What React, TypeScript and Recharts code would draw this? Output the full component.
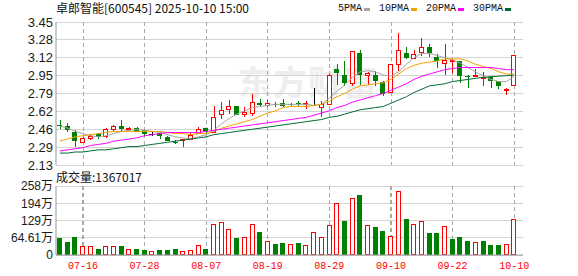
import React from "react";
import {
  ComposedChart,
  Bar,
  Line,
  XAxis,
  YAxis,
  CartesianGrid,
} from "recharts";

// Handelstage (MM-DD)
const dates = [
  "07-11", "07-14", "07-15", "07-16", "07-17", "07-18", "07-21", "07-22", "07-23", "07-24",
  "07-25", "07-28", "07-29", "07-30", "07-31", "08-01", "08-04", "08-05", "08-06", "08-07",
  "08-08", "08-11", "08-12", "08-13", "08-14", "08-15", "08-18", "08-19", "08-20", "08-21",
  "08-22", "08-25", "08-26", "08-27", "08-28", "08-29", "09-01", "09-02", "09-03", "09-04",
  "09-05", "09-08", "09-09", "09-10", "09-11", "09-12", "09-15", "09-16", "09-17", "09-18",
  "09-19", "09-22", "09-23", "09-24", "09-25", "09-26", "09-29", "09-30", "10-09", "10-10",
];

const opens = [
  2.5, 2.489, 2.437, 2.339, 2.382, 2.413, 2.4, 2.464, 2.489, 2.459,
  2.468, 2.45, 2.418, 2.422, 2.391, 2.342, 2.36, 2.372, 2.428, 2.471,
  2.437, 2.597, 2.643, 2.673, 2.597, 2.606, 2.698, 2.683, 2.692, 2.698,
  2.69, 2.698, 2.689, 2.683, 2.662, 2.695, 3.017, 2.962, 2.888, 3.164,
  2.962, 2.962, 2.895, 2.802, 3.063, 3.164, 3.118, 3.177, 3.217, 3.131,
  3.07, 3.09, 3.088, 2.95, 2.953, 2.938, 2.941, 2.904, 2.821, 2.873,
];
const highs = [
  2.545, 2.517, 2.455, 2.385, 2.413, 2.425, 2.474, 2.499, 2.547, 2.483,
  2.48, 2.455, 2.432, 2.434, 2.4, 2.36, 2.374, 2.422, 2.483, 2.471,
  2.676, 2.71, 2.729, 2.675, 2.662, 2.79, 2.741, 2.729, 2.71, 2.735,
  2.705, 2.717, 2.717, 2.839, 2.717, 2.97, 3.063, 3.094, 3.18, 3.187,
  2.987, 3.002, 2.901, 3.058, 3.346, 3.217, 3.187, 3.303, 3.247, 3.155,
  3.247, 3.11, 3.094, 2.962, 3.012, 2.987, 2.956, 2.91, 2.839, 3.15,
];
const lows = [
  2.459, 2.437, 2.299, 2.335, 2.358, 2.372, 2.382, 2.446, 2.437, 2.446,
  2.434, 2.397, 2.394, 2.372, 2.348, 2.324, 2.296, 2.367, 2.416, 2.416,
  2.428, 2.557, 2.597, 2.589, 2.569, 2.581, 2.662, 2.662, 2.662, 2.662,
  2.67, 2.673, 2.649, 2.673, 2.572, 2.69, 2.864, 2.855, 2.858, 2.87,
  2.864, 2.858, 2.766, 2.796, 3.002, 3.109, 3.104, 3.14, 3.125, 3.026,
  2.962, 2.98, 2.888, 2.842, 2.941, 2.858, 2.839, 2.833, 2.778, 2.864,
];
const closes = [
  2.495, 2.455, 2.354, 2.382, 2.4, 2.391, 2.462, 2.487, 2.459, 2.468,
  2.437, 2.416, 2.418, 2.397, 2.354, 2.338, 2.372, 2.409, 2.462, 2.437,
  2.569, 2.637, 2.673, 2.591, 2.621, 2.71, 2.685, 2.698, 2.685, 2.673,
  2.684, 2.692, 2.701, 2.683, 2.689, 2.965, 2.977, 2.888, 3.18, 2.965,
  2.977, 2.901, 2.787, 3.058, 3.187, 3.118, 3.155, 3.217, 3.164, 3.088,
  3.1, 3.1, 2.956, 2.943, 2.959, 2.943, 2.901, 2.855, 2.827, 3.15,
];

const ma5 = [
  2.49, 2.47, 2.44, 2.42, 2.4, 2.39, 2.4, 2.42, 2.44, 2.45,
  2.46, 2.45, 2.44, 2.43, 2.41, 2.39, 2.38, 2.37, 2.39, 2.41,
  2.45, 2.51, 2.56, 2.6, 2.63, 2.66, 2.67, 2.68, 2.69, 2.69,
  2.69, 2.69, 2.69, 2.68, 2.69, 2.75, 2.81, 2.87, 2.94, 2.99,
  3.0, 2.99, 2.96, 2.95, 2.99, 3.06, 3.12, 3.16, 3.16, 3.14,
  3.12, 3.1, 3.07, 3.03, 2.99, 2.95, 2.92, 2.9, 2.9, 2.95,
];
const ma10 = [
  2.35, 2.37, 2.39, 2.4, 2.41, 2.42, 2.43, 2.44, 2.44, 2.44,
  2.44, 2.44, 2.44, 2.44, 2.43, 2.42, 2.42, 2.41, 2.42, 2.42,
  2.44, 2.47, 2.49, 2.51, 2.53, 2.55, 2.58, 2.61, 2.63, 2.66,
  2.67, 2.67, 2.67, 2.68, 2.69, 2.72, 2.76, 2.79, 2.83, 2.86,
  2.87, 2.88, 2.89, 2.92, 2.97, 3.02, 3.05, 3.07, 3.08, 3.09,
  3.11, 3.11, 3.11, 3.09, 3.06, 3.04, 3.02, 2.99, 2.97, 2.97,
];
const ma20 = [
  2.26, 2.27, 2.28, 2.29, 2.31, 2.32, 2.33, 2.35, 2.36, 2.37,
  2.38, 2.4, 2.41, 2.42, 2.43, 2.43, 2.43, 2.43, 2.43, 2.44,
  2.45, 2.46, 2.47, 2.48, 2.49, 2.5, 2.51, 2.52, 2.53, 2.54,
  2.55, 2.56, 2.57, 2.59, 2.61, 2.63, 2.66, 2.68, 2.71, 2.73,
  2.75, 2.77, 2.79, 2.82, 2.85, 2.88, 2.92, 2.95, 2.97, 2.99,
  3.01, 3.02, 3.03, 3.03, 3.03, 3.03, 3.03, 3.02, 3.01, 3.01,
];
const ma30 = [
  2.24, 2.24, 2.25, 2.25, 2.26, 2.27, 2.27, 2.28, 2.29, 2.3,
  2.3, 2.31, 2.32, 2.33, 2.34, 2.35, 2.36, 2.37, 2.38, 2.39,
  2.41, 2.42, 2.43, 2.44, 2.45, 2.46, 2.47, 2.48, 2.49, 2.5,
  2.51, 2.52, 2.53, 2.54, 2.55, 2.57, 2.58, 2.6, 2.62, 2.64,
  2.65, 2.66, 2.67, 2.7, 2.73, 2.76, 2.8, 2.83, 2.86, 2.87,
  2.88, 2.9, 2.91, 2.92, 2.93, 2.94, 2.945, 2.95, 2.955, 2.96,
];

// Volumen in 万
const volumes = [
  63, 48, 67, 32, 32, 21, 35, 35, 33, 24,
  24, 18, 16, 18, 18, 21, 16, 20, 39, 21,
  115, 122, 99, 63, 69, 115, 86, 54, 40, 44,
  43, 44, 39, 88, 69, 111, 194, 127, 213, 225,
  111, 105, 89, 73, 239, 135, 115, 126, 82, 82,
  107, 59, 67, 52, 47, 52, 37, 37, 43, 136.7,
];
// r = gegenüber Vortag gestiegen (rot, hohl), g = gefallen (grün)
const volumeColors = "gggrrgrrgrggrgggrrrgrrrgrrgrggrgrrrrrgrgrggrrgrrggrgggrgggrr".split("");

const labelDates = ["07-16", "07-28", "08-07", "08-19", "08-29", "09-10", "09-22", "10-10"];
const priceTicks = [2.13, 2.295, 2.46, 2.625, 2.79, 2.955, 3.12, 3.285, 3.45];
const priceTickLabels = ["2.13", "2.29", "2.46", "2.62", "2.79", "2.95", "3.12", "3.28", "3.45"];
const volTicks = [0, 64.61, 129.22, 193.83, 258.44];
const volTickLabels = ["0", "64.61万", "129万", "194万", "258万"];

const maSeries = [
  { key: "ma5", name: "5PMA", color: "#a6a6a6" },
  { key: "ma10", name: "10PMA", color: "#f2a200" },
  { key: "ma20", name: "20PMA", color: "#ff00ff" },
  { key: "ma30", name: "30PMA", color: "#006b33" },
];

const RED = "#ff0000";
const GREEN = "#008000";
const BORDER = "#999999";
const GRID = "#d4d4d4";
const DASH = "#a8a8a8";
const FONT = "'Liberation Sans', Arial, 'Noto Sans CJK SC', sans-serif";
const MONO = "'Liberation Mono', 'DejaVu Sans Mono', monospace";

const PRICE_DOMAIN: [number, number] = [2.13, 3.45];
const VOL_DOMAIN: [number, number] = [0, 258.44];

const rows = dates.map((date, i) => ({
  date,
  open: opens[i],
  high: highs[i],
  low: lows[i],
  close: closes[i],
  ma5: ma5[i],
  ma10: ma10[i],
  ma20: ma20[i],
  ma30: ma30[i],
  vol: volumes[i],
  volUp: volumeColors[i] === "r",
  marked: labelDates.indexOf(date) >= 0,
}));

// gestrichelte Senkrechte aus kurzen Strichen
function DashedVertical({ cx, y1, y2 }: { cx: number; y1: number; y2: number }) {
  const a = Math.round(Math.min(y1, y2));
  const b = Math.round(Math.max(y1, y2));
  const segs: React.ReactElement[] = [];
  for (let s = a; s < b; s += 7) {
    segs.push(<rect key={s} x={cx - 0.5} y={s} width={1} height={Math.min(4, b - s)} fill={DASH} />);
  }
  return <g>{segs}</g>;
}

function Candle(props: any) {
  const { x, y, width, height, payload } = props;
  if (!payload) return null;
  const { open, close, high, low, marked } = payload;
  const top = Math.min(y, y + height);
  const k = Math.abs(height) / (high - low || 1);
  const pyRaw = (v: number) => top + (high - v) * k;
  const py = (v: number) => Math.round(pyRaw(v));
  const cx = Math.round(x + width / 2) + 0.5;
  const left = Math.round(x);
  const w = Math.round(width);
  const yTop = py(Math.max(open, close));
  const yBot = py(Math.min(open, close));
  const bodyH = Math.max(yBot - yTop, 1);

  let mark;
  if (close > open) {
    mark = (
      <>
        <line x1={cx} x2={cx} y1={py(high)} y2={py(low)} stroke={RED} />
        <rect x={left + 0.5} y={yTop + 0.5} width={w - 1} height={bodyH} fill="#fff" stroke={RED} />
      </>
    );
  } else if (close < open) {
    mark = (
      <>
        <line x1={cx} x2={cx} y1={py(high)} y2={py(low)} stroke={GREEN} />
        <rect x={left} y={yTop} width={w} height={bodyH} fill={GREEN} />
      </>
    );
  } else {
    mark = (
      <>
        <line x1={cx} x2={cx} y1={py(high)} y2={py(low)} stroke="#000" />
        <line x1={left} x2={left + w} y1={yTop + 0.5} y2={yTop + 0.5} stroke="#000" />
      </>
    );
  }
  return (
    <g shapeRendering="crispEdges">
      {marked ? (
        <DashedVertical cx={cx} y1={pyRaw(PRICE_DOMAIN[1])} y2={pyRaw(PRICE_DOMAIN[0])} />
      ) : null}
      {mark}
    </g>
  );
}

function VolumeBar(props: any) {
  const { x, y, width, height, payload } = props;
  if (!payload) return null;
  const left = Math.round(x);
  const w = Math.round(width);
  const t = Math.round(y);
  const base = y + height;
  const h = Math.max(Math.round(base) - t, 1);
  const k = Math.abs(height) / (payload.vol || 1);
  const plotTop = base - VOL_DOMAIN[1] * k;
  const cx = Math.round(x + width / 2) + 0.5;
  return (
    <g shapeRendering="crispEdges">
      {payload.marked ? <DashedVertical cx={cx} y1={plotTop} y2={base} /> : null}
      {payload.volUp ? (
        <rect x={left + 0.5} y={t + 0.5} width={w - 1} height={h - 1} fill="#fff" stroke={RED} />
      ) : (
        <rect x={left} y={t} width={w} height={h} fill={GREEN} />
      )}
    </g>
  );
}

const CHART_W = 578;
const MARGIN_RIGHT = 55;
const AXIS_W = 56;
const X_PADDING = { left: 0, right: 5 };

export default function App() {
  return (
    <div
      style={{
        position: "absolute",
        left: 0,
        top: 0,
        width: CHART_W,
        height: 276,
        background: "#fff",
        fontFamily: FONT,
        overflow: "hidden",
      }}
    >
      {/* Wasserzeichen */}
      <div
        style={{
          position: "absolute",
          left: 238,
          top: 62,
          fontSize: 34,
          fontWeight: 700,
          color: "#eeeeee",
          fontFamily: "'Noto Sans CJK SC', sans-serif",
          letterSpacing: 1,
          lineHeight: "38px",
        }}
      >
        东方财富
      </div>

      {/* Titel */}
      <div
        style={{
          position: "absolute",
          left: 56,
          top: 1,
          fontSize: 12,
          lineHeight: "14px",
          color: "#111",
          fontFamily: "'Noto Sans CJK SC', sans-serif",
          whiteSpace: "pre",
        }}
      >
        卓郎智能[600545] 2025-10-10 15:00
      </div>

      {/* Legende */}
      <div
        style={{
          position: "absolute",
          left: 338,
          top: 3,
          display: "flex",
          alignItems: "center",
          gap: 9,
          fontFamily: MONO,
          fontSize: 10,
          lineHeight: "12px",
          color: "#111",
        }}
      >
        {maSeries.map((s) => (
          <div key={s.key} style={{ display: "flex", alignItems: "center" }}>
            <span>{s.name}</span>
            <span
              style={{ display: "inline-block", width: 6, height: 3, marginLeft: 2, background: s.color }}
            />
          </div>
        ))}
      </div>

      {/* Volumen-Titel */}
      <div
        style={{
          position: "absolute",
          left: 56,
          top: 170,
          fontSize: 12,
          lineHeight: "14px",
          color: "#111",
          fontFamily: "'Noto Sans CJK SC', sans-serif",
        }}
      >
        成交量:1367017
      </div>

      {/* Kurs-Chart */}
      <div style={{ position: "absolute", left: 0, top: 0 }}>
        <ComposedChart
          width={CHART_W}
          height={172}
          data={rows}
          margin={{ top: 22, right: MARGIN_RIGHT, bottom: 7, left: 0 }}
          barCategoryGap={0}
        >
          <CartesianGrid vertical={false} stroke={GRID} shapeRendering="crispEdges" />
          <CartesianGrid
            horizontal={false}
            verticalValues={labelDates}
            stroke={DASH}
            strokeDasharray="4 3"
            shapeRendering="crispEdges"
          />
          <XAxis
            dataKey="date"
            height={0}
            tick={false}
            tickLine={false}
            interval={0}
            axisLine={{ stroke: BORDER }}
            padding={X_PADDING}
          />
          <XAxis
            xAxisId="top"
            orientation="top"
            dataKey="date"
            height={0}
            tick={false}
            tickLine={false}
            axisLine={{ stroke: BORDER }}
            padding={X_PADDING}
          />
          <YAxis
            domain={PRICE_DOMAIN}
            ticks={priceTicks}
            interval={0}
            allowDataOverflow
            width={AXIS_W}
            tickSize={2}
            tickMargin={1}
            tickLine={false}
            axisLine={{ stroke: BORDER }}
            tick={{ fontSize: 13, fill: "#1a1a1a", fontFamily: FONT }}
            tickFormatter={(v: number) => priceTickLabels[priceTicks.indexOf(v)] ?? ""}
          />
          <YAxis
            yAxisId="r"
            orientation="right"
            domain={PRICE_DOMAIN}
            width={0}
            tick={false}
            tickLine={false}
            axisLine={{ stroke: BORDER }}
          />
          <Bar
            dataKey={(d: any) => [d.low, d.high]}
            barSize={5}
            shape={(p: any) => <Candle {...p} />}
            isAnimationActive={false}
          />
          {maSeries.map((s) => (
            <Line
              key={s.key}
              type="linear"
              dataKey={s.key}
              stroke={s.color}
              strokeWidth={1}
              dot={false}
              activeDot={false}
              isAnimationActive={false}
            />
          ))}
        </ComposedChart>
      </div>

      {/* Volumen-Chart */}
      <div style={{ position: "absolute", left: 0, top: 170 }}>
        <ComposedChart
          width={CHART_W}
          height={106}
          data={rows}
          margin={{ top: 16, right: MARGIN_RIGHT, bottom: 0, left: 0 }}
          barCategoryGap={0}
        >
          <CartesianGrid vertical={false} stroke={GRID} shapeRendering="crispEdges" />
          <CartesianGrid
            horizontal={false}
            verticalValues={labelDates}
            stroke={DASH}
            strokeDasharray="4 3"
            shapeRendering="crispEdges"
          />
          <XAxis
            dataKey="date"
            height={21}
            ticks={labelDates}
            interval={0}
            tickLine={false}
            tickSize={5}
            axisLine={{ stroke: BORDER }}
            padding={X_PADDING}
            tick={{ fontSize: 10, fill: RED, fontFamily: MONO }}
          />
          <XAxis
            xAxisId="top"
            orientation="top"
            dataKey="date"
            height={0}
            tick={false}
            tickLine={false}
            axisLine={{ stroke: BORDER }}
            padding={X_PADDING}
          />
          <YAxis
            domain={VOL_DOMAIN}
            ticks={volTicks}
            interval={0}
            allowDataOverflow
            width={AXIS_W}
            tickSize={2}
            tickMargin={1}
            tickLine={false}
            axisLine={{ stroke: BORDER }}
            tick={{ fontSize: 12, fill: "#1a1a1a", fontFamily: FONT }}
            tickFormatter={(v: number) => volTickLabels[volTicks.indexOf(v)] ?? ""}
          />
          <YAxis
            yAxisId="r"
            orientation="right"
            domain={VOL_DOMAIN}
            width={0}
            tick={false}
            tickLine={false}
            axisLine={{ stroke: BORDER }}
          />
          <Bar
            dataKey="vol"
            barSize={5}
            shape={(p: any) => <VolumeBar {...p} />}
            isAnimationActive={false}
          />
        </ComposedChart>
      </div>
    </div>
  );
}
